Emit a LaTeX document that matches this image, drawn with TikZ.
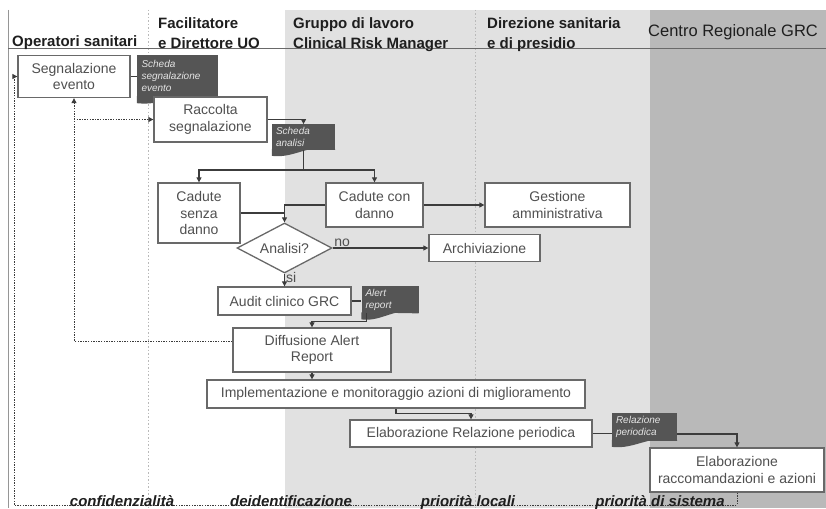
\documentclass[tikz,border=0pt]{standalone}
\usepackage{fontspec}
\setmainfont{Liberation Sans}
\usepackage{tikz}
\usetikzlibrary{shapes.geometric, arrows.meta, calc}
\definecolor{lanelight}{RGB}{225,225,225}
\definecolor{lanedark}{RGB}{185,185,185}
\definecolor{boxline}{RGB}{105,105,105}
\definecolor{boxtext}{RGB}{80,80,80}
\definecolor{docgray}{RGB}{85,85,85}
\definecolor{doctext}{RGB}{228,228,228}
\definecolor{linkgray}{RGB}{60,60,60}
\definecolor{headtext}{RGB}{30,30,30}
\definecolor{sepgray}{RGB}{185,185,185}
\newcommand{\blockfont}{\fontsize{14}{16.5}\selectfont}
\newcommand{\headfont}{\fontsize{15}{20}\selectfont\bfseries}
\newcommand{\docfont}{\fontsize{10}{12}\selectfont\itshape}
\newcommand{\tagfont}{\fontsize{15}{18}\selectfont\bfseries\itshape}
% wavy lower edge under a document node
\newcommand{\docwave}[1]{%
  \fill[docgray] (#1.south east) -- ([yshift=1pt]#1.south east)
    .. controls ($(#1.south west)!0.6!(#1.south east)+(0pt,7pt)$)
    and ($(#1.south west)!0.35!(#1.south east)+(0pt,-9pt)$)
    .. ([yshift=-6pt]#1.south west) -- ([yshift=1pt]#1.south west) -- cycle;}
\tikzset{
  block/.style={rectangle, draw=boxline, fill=white, line width=1.3pt,
    font=\blockfont, text=boxtext, align=center, inner sep=1pt},
  decision/.style={diamond, draw=boxline, fill=white, line width=1.3pt,
    font=\blockfont, text=boxtext, inner sep=0pt, aspect=1.9,
    minimum width=95pt, minimum height=50pt},
  docnode/.style={rectangle, fill=docgray, inner sep=3pt, font=\docfont,
    text=doctext, align=left},
  arrow/.style={-{Triangle[length=5pt, width=5pt]}, line width=1.1pt, color=linkgray},
  line/.style={line width=1.1pt, color=linkgray},
  dotarrow/.style={-{Triangle[length=5pt, width=5pt]}, line width=1pt,
    color=linkgray, dash pattern=on 1.3pt off 1.3pt},
  lanehead/.style={font=\headfont, text=headtext, align=left,
    anchor=north west, inner sep=0pt},
  lanesep/.style={sepgray, line width=0.8pt, dash pattern=on 1.5pt off 2pt},
  tagtext/.style={font=\tagfont, text=headtext, anchor=base, inner sep=0pt},
  branch/.style={font=\blockfont, text=boxtext, inner sep=1pt}
}
\begin{document}
\begin{tikzpicture}[x=1pt, y=-1pt]
  \useasboundingbox (0,0) rectangle (826,508);
  % --- Swimlanes ---
  \fill[lanelight] (285,10) rectangle (650,508);
  \fill[lanedark] (650,10) rectangle (826,508);
  \draw[lanesep] (148,10) -- (148,508);
  \draw[lanesep] (475,10) -- (475,508);
  \draw[boxline!70, line width=0.8pt] (8,10) -- (8,508);
  \draw[boxline, line width=1pt] (8,49) -- (826,49);

  \node[lanehead] (hdops) at (12,35) {Operatori sanitari};
  \node[lanehead] (hdfac) at (158,17) {Facilitatore\\e Direttore UO};
  \node[lanehead] (hdgrp) at (293,17) {Gruppo di lavoro\\Clinical Risk Manager};
  \node[lanehead] (hddir) at (487,17) {Direzione sanitaria\\e di presidio};
  \node[lanehead, font=\fontsize{16.5}{20}\selectfont] (hdgrc) at (648,24) {Centro Regionale GRC};

  % --- Documents ---
  \node[docnode, minimum width=81pt, minimum height=42pt, text width=72pt]
    (schedaseg) at (177.5,76) {Scheda\\segnalazione\\evento};
  \docwave{schedaseg}
  \node[docnode, minimum width=63pt, minimum height=24pt, text width=55pt]
    (schedaan) at (303.5,137) {Scheda\\analisi};
  \docwave{schedaan}
  \node[docnode, minimum width=57pt, minimum height=23pt, text width=49pt]
    (alert) at (390,299.5) {Alert\\report};
  \docwave{alert}
  \node[docnode, minimum width=65pt, minimum height=26pt, text width=57pt]
    (relazione) at (644.5,427) {Relazione\\periodica};
  \docwave{relazione}

  % --- Activities ---
  \node[block, minimum width=112pt, minimum height=42pt] (segnalazione) at (74,76.5) {Segnalazione\\evento};
  \node[block, minimum width=113pt, minimum height=45pt] (raccolta) at (210.5,119.5) {Raccolta\\segnalazione};
  \node[block, minimum width=82pt, minimum height=60pt] (senza) at (199,213) {Cadute\\senza\\danno};
  \node[block, minimum width=97pt, minimum height=44pt] (con) at (374.5,205) {Cadute con\\danno};
  \node[block, minimum width=145pt, minimum height=44pt] (gestione) at (557.5,205) {Gestione\\amministrativa};
  \node[decision] (analisi) at (284.5,248) {Analisi?};
  \node[block, minimum width=111pt, minimum height=27pt] (archiviazione) at (484.5,248) {Archiviazione};
  \node[block, minimum width=133pt, minimum height=28pt] (audit) at (284.5,301) {Audit clinico GRC};
  \node[block, minimum width=158pt, minimum height=44pt] (diffusione) at (312,350) {Diffusione Alert\\Report};
  \node[block, minimum width=378pt, minimum height=28pt] (implementazione) at (396,394)
    {Implementazione e monitoraggio azioni di miglioramento};
  \node[block, minimum width=242pt, minimum height=27pt] (elabrel) at (471,433.5) {Elaborazione Relazione periodica};
  \node[block, minimum width=174pt, minimum height=44pt] (elabrac) at (737,470)
    {Elaborazione\\raccomandazioni e azioni};

  % --- Flow ---
  \draw[line] (segnalazione.east) -- (schedaseg.west |- segnalazione.east);
  \draw[arrow] (raccolta.east) -| (schedaan.north);
  \coordinate (split) at (303.5,170);
  \draw[line] (schedaan.south) -- (split);
  \draw[arrow] (split) -| (senza.north);
  \draw[arrow] (split) -| (con.north);
  \draw[line] (senza.east) -| (analisi.north);
  \draw[arrow] (con.west) -| (analisi.north);
  \draw[arrow] (con.east) -- (gestione.west);
  \draw[arrow] (analisi.east) -- node[branch, above, pos=0.1] {no} (archiviazione.west);
  \draw[arrow] (analisi.south) -- node[branch, right, pos=0.3] {si} (audit.north);
  \draw[line] (audit.east) -- (alert.west |- audit.east);
  \draw[arrow] ([xshift=5pt]alert.south west) |- ([yshift=6pt]diffusione.north) -- (diffusione.north);
  \draw[arrow] (diffusione.south) -- (diffusione.south |- implementazione.north);
  \draw[arrow] (implementazione.south) -- ++(0,5) -| (elabrel.north);
  \draw[line] (elabrel.east) -- (relazione.west |- elabrel.east);
  \draw[arrow] ([yshift=-7pt]relazione.east) -| (elabrac.north);

  % --- Feedback loops ---
  \coordinate (loopbl) at (14,505);
  \draw[dotarrow] (elabrac.south) |- (loopbl) |- (segnalazione.west);
  \draw[dotarrow] ([yshift=9pt]diffusione.west) -| (segnalazione.south);
  \draw[dotarrow] (segnalazione.south |- raccolta.west) -- (raccolta.west);

  % --- Principles ---
  \node[tagtext] (tconf) at (122,506) {confidenzialità};
  \node[tagtext] (tdeid) at (291,506) {deidentificazione};
  \node[tagtext] (tloc) at (468,506) {priorità locali};
  \node[tagtext] (tsis) at (660,506) {priorità di sistema};
\end{tikzpicture}
\end{document}
